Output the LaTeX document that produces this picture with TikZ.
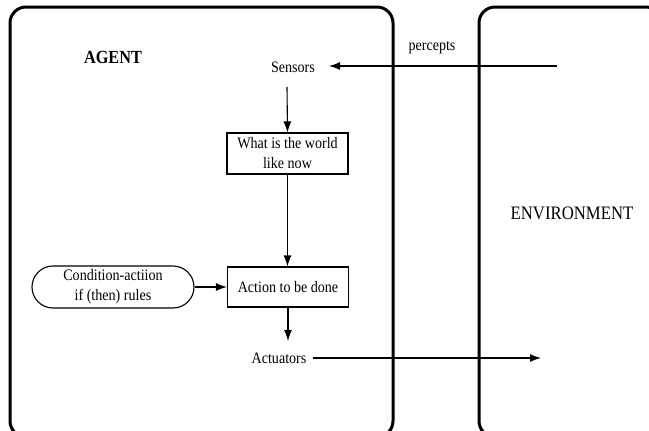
\documentclass[tikz,border=0pt]{standalone}
\usepackage{fontspec}
\setmainfont{Liberation Serif}[FakeStretch=0.88]
\usetikzlibrary{arrows.meta,shapes.misc}
\begin{document}
\begin{tikzpicture}[x=1pt,y=-1pt,
  frame/.style={line width=3pt,rounded corners=16pt},
  txt/.style={font=\fontsize{16}{20}\selectfont},
  flowbox/.style={draw,txt,line width=1.1pt,minimum width=121pt,minimum height=41pt,align=center,inner sep=1pt},
  pill/.style={draw,txt,line width=1.1pt,rounded rectangle,minimum width=164pt,minimum height=42pt,align=center,inner sep=1pt},
  lbl/.style={txt,inner sep=1pt},
  flow/.style={line width=1.1pt,-{Latex[length=11pt,width=8pt]}}]
\useasboundingbox (0,0) rectangle (649,431);
% agent and environment frames
\draw[frame] (10,7) rectangle (393,437);
\draw[frame] (479,7) rectangle (662,437);
% labels
\node[lbl,font=\fontsize{18.5}{20}\selectfont\bfseries] (agent) at (113,57) {AGENT};
\node[lbl,font=\fontsize{19}{20}\selectfont] (env) at (572,213) {ENVIRONMENT};
\node[lbl] (sensors) at (293,67) {Sensors};
\node[lbl] (percepts) at (432,48) {percepts};
\node[flowbox] (world) at (287.5,153.5) {What is the world\\like now};
\node[flowbox,minimum height=40pt] (action) at (288,287) {Action to be done};
\node[pill] (rules) at (113,287) {Condition-actiion\\if (then) rules};
\node[lbl] (actuators) at (279,358) {Actuators};
\coordinate (pin) at (557,66);
\coordinate (pout) at (541,358);
% connectors
\draw[flow] (pin) -- (329,66);
\draw[flow] (287,87) -- (world.north);
\draw[flow] (world.south) -- (action.north -| world.south);
\draw[flow] (rules.east) -- (action.west);
\draw[flow] (action.south) -- (288,341);
\draw[flow] (actuators.east) ++(5,0) -- (pout);
\end{tikzpicture}
\end{document}
